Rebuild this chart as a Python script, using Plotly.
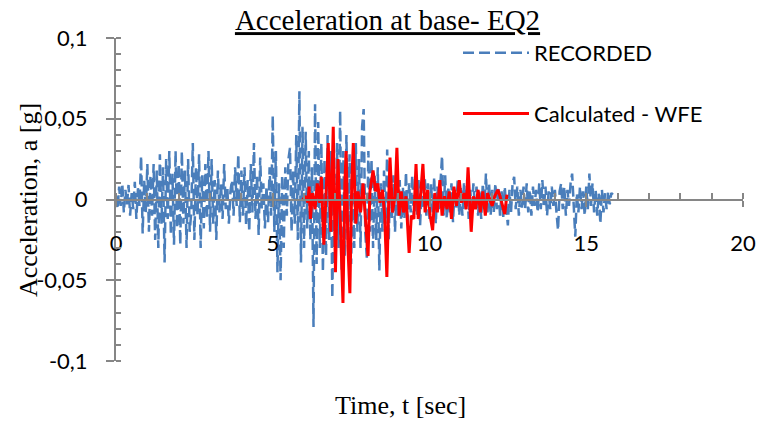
import numpy as np
import plotly.graph_objects as go

# ---------------- data ----------------
rec_dt = 0.05
recorded = [
    # 0 - 0.95 s
    0.002, -0.006, 0.008, -0.004, 0.010, -0.008, 0.006, -0.003, 0.009, -0.010,
    0.004, -0.006, 0.011, -0.012, 0.007, -0.004, 0.027, -0.021, 0.012, -0.008,
    # 1 s
    0.022, -0.020, 0.015, -0.010, 0.022, -0.025, 0.018, -0.030, 0.028, -0.015,
    0.020, -0.039, 0.025, -0.012, 0.030, -0.022, 0.016, -0.028, 0.030, -0.018,
    # 2 s
    0.022, -0.028, 0.030, -0.015, 0.018, -0.030, 0.025, -0.020, -0.008, 0.035,
    -0.025, 0.020, -0.010, 0.028, -0.030, 0.015, -0.018, 0.022, -0.012, 0.030,
    # 3 s
    -0.020, 0.025, -0.015, 0.012, -0.025, 0.018, -0.008, 0.010, -0.012, 0.022,
    -0.006, 0.008, -0.015, 0.005, 0.012, -0.010, 0.020, -0.004, 0.028, -0.014,
    # 4 s
    0.018, -0.010, 0.020, -0.016, 0.012, -0.020, 0.022, -0.008, 0.035, -0.012,
    0.015, -0.022, 0.026, -0.006, 0.010, -0.018, 0.008, -0.014, 0.020, -0.010,
    # 5 s
    0.052, -0.020, 0.030, -0.045, 0.010, -0.050, 0.015, -0.030, 0.020, -0.010,
    0.025, 0.032, -0.020, 0.018, -0.015, 0.040, -0.025, 0.067, -0.039, 0.045,
    # 6 s
    -0.030, 0.042, -0.018, 0.030, -0.025, 0.020, -0.079, 0.059, -0.040, 0.048,
    -0.030, 0.035, -0.045, 0.025, -0.035, 0.040, -0.025, 0.030, -0.061, 0.020,
    # 7 s
    -0.040, 0.035, -0.030, 0.055, -0.045, 0.030, -0.035, 0.040, -0.025, 0.028,
    -0.040, 0.020, -0.030, 0.035, -0.020, 0.025, -0.030, 0.045, 0.056, -0.020,
    # 8 s
    -0.036, 0.030, -0.020, 0.025, -0.030, 0.015, -0.025, 0.020, -0.044, 0.010,
    -0.020, 0.018, -0.015, 0.031, -0.025, 0.020, -0.012, 0.015, -0.020, 0.010,
    # 9 s
    -0.010, 0.012, -0.018, 0.008, -0.012, 0.017, -0.015, 0.010, -0.008, 0.015,
    -0.012, 0.006, -0.010, 0.012, -0.016, 0.008, -0.006, 0.014, -0.010, 0.010,
    # 10 s
    -0.012, 0.010, -0.008, 0.014, -0.015, 0.008, -0.006, 0.012, 0.027, -0.010,
    0.015, -0.012, 0.008, -0.008, 0.010, -0.014, 0.006, -0.006, 0.012, -0.010,
    # 11 s
    0.008, -0.010, 0.010, -0.006, 0.012, -0.012, 0.006, -0.008, 0.010, -0.005,
    0.008, -0.010, 0.006, -0.012, 0.010, -0.006, 0.016, -0.008, 0.010, -0.010,
    # 12 s
    0.006, -0.008, 0.010, -0.006, 0.008, -0.010, 0.005, -0.012, 0.008, -0.006,
    -0.016, 0.006, -0.008, 0.010, 0.014, -0.006, 0.008, -0.010, 0.006, -0.005,
    # 13 s
    0.008, -0.006, 0.010, -0.008, 0.006, -0.010, 0.008, -0.004, 0.006, -0.008,
    0.010, -0.006, 0.012, -0.005, 0.008, -0.010, 0.005, -0.006, 0.008, -0.004,
    # 14 s
    0.006, -0.008, -0.019, 0.005, 0.010, -0.006, 0.008, -0.010, 0.006, -0.004,
    0.010, 0.016, -0.006, -0.023, 0.004, -0.008, 0.008, -0.006, 0.005, -0.010,
    # 15 s
    0.008, -0.006, 0.016, -0.004, 0.010, -0.008, 0.006, -0.010, 0.004, -0.015,
    0.006, -0.008, 0.004, -0.006, 0.005, -0.003, 0.004, 0.003,
]
rec_t = np.arange(len(recorded)) * rec_dt

calc_t = [5.96, 6.05, 6.12, 6.16, 6.2, 6.27, 6.35, 6.42, 6.5, 6.55, 6.63, 6.7, 6.77,
          6.85, 6.93, 7.0, 7.08, 7.15, 7.24, 7.3, 7.34, 7.4, 7.46, 7.52, 7.57, 7.65,
          7.72, 7.8, 7.88, 7.95, 8.04, 8.1, 8.2, 8.28, 8.35, 8.42, 8.5, 8.57, 8.64,
          8.7, 8.74, 8.82, 8.9, 8.96, 9.03, 9.1, 9.17, 9.25, 9.35, 9.42, 9.5, 9.57,
          9.64, 9.72, 9.79, 9.86, 9.94, 10.02, 10.1, 10.17, 10.25, 10.33, 10.4,
          10.48, 10.56, 10.63, 10.7, 10.78, 10.86, 10.95, 11.02, 11.1, 11.17, 11.23,
          11.33, 11.4, 11.47, 11.55, 11.62, 11.7, 11.78, 11.85, 11.92, 12.0, 12.08,
          12.18, 12.25, 12.32, 12.4, 12.47]
calc_a = [0.0, 0.002, -0.002, 0.008, -0.012, 0.004, -0.006, 0.010, -0.002, 0.014,
          -0.028, 0.005, 0.035, -0.020, 0.045, -0.045, 0.025, -0.010, -0.064, 0.010,
          0.030, -0.030, -0.058, 0.010, 0.035, -0.015, 0.005, -0.008, 0.010, -0.010,
          -0.035, 0.005, 0.018, 0.005, 0.010, -0.002, 0.006, -0.010, -0.048, 0.000,
          0.026, -0.008, 0.002, 0.032, -0.010, 0.005, -0.008, 0.002, -0.033, -0.010,
          -0.012, 0.022, -0.012, 0.004, 0.022, -0.008, 0.006, -0.010, -0.019, 0.004,
          -0.008, 0.012, -0.010, 0.002, -0.006, 0.005, -0.012, 0.008, -0.004, 0.012,
          -0.002, 0.004, -0.006, 0.020, -0.020, 0.002, -0.006, 0.006, -0.008, 0.005,
          -0.010, 0.004, 0.000, -0.004, 0.002, 0.006, 0.002, -0.003, -0.009, 0.003]

x_ticks = [0, 5, 10, 15, 20]
x_ticktext = ["0", "5", "10", "15", "20"]
y_ticks = [-0.1, -0.05, 0, 0.05, 0.1]
y_ticktext = ["-0,1", "-0,05", "0", "0,05", "0,1"]

# ---------------- figure ----------------
AX = "#868686"
SANS = "Lato"
SERIF = "Liberation Serif"

fig = go.Figure()
fig.add_trace(go.Scatter(
    x=rec_t, y=recorded, mode="lines", name="RECORDED", legendgroup="a",
    line=dict(color="#4A7EBB", width=2.5, dash="11px,5px"),
))
fig.add_trace(go.Scatter(
    x=calc_t, y=calc_a, mode="lines", name="Calculated - WFE", legendgroup="b",
    line=dict(color="#FF0000", width=3),
))

fig.update_layout(
    width=758, height=422,
    margin=dict(l=116, r=15, t=38, b=61, autoexpand=False),
    paper_bgcolor="white", plot_bgcolor="white",
    font=dict(family=SANS, size=22, color="black"),
    title=dict(text="<u>Acceleration at base- EQ2</u>",
               font=dict(family=SERIF, size=29, color="black"),
               x=387.5 / 758, xanchor="center", xref="container",
               y=1 - 20 / 422, yanchor="middle", yref="container"),
    showlegend=True,
    legend=dict(x=(458 - 116) / 627, y=1 + 6 / 323, xanchor="left", yanchor="top",
                bgcolor="rgba(0,0,0,0)", font=dict(family=SANS, size=22),
                itemwidth=66, tracegroupgap=29, traceorder="grouped"),
    xaxis=dict(range=[0, 20], anchor="free", position=0.5, automargin=False,
               showgrid=False, zeroline=False, showline=True, linecolor=AX, linewidth=2,
               tickvals=x_ticks, ticktext=x_ticktext, ticks="outside", ticklen=6,
               tickwidth=2, tickcolor=AX, ticklabelstandoff=18,
               minor=dict(dtick=1, ticks="inside", ticklen=6, tickwidth=1.5, tickcolor=AX),
               tickfont=dict(family=SANS, size=22)),
    yaxis=dict(range=[-0.1, 0.1], showgrid=False, zeroline=False, showline=True,
               linecolor=AX, linewidth=2, automargin=False,
               tickvals=y_ticks, ticktext=y_ticktext, ticks="outside", ticklen=8,
               tickwidth=2, tickcolor=AX, ticklabelstandoff=14,
               minor=dict(dtick=0.01, ticks="inside", ticklen=5, tickwidth=1.5, tickcolor=AX),
               tickfont=dict(family=SANS, size=22)),
    annotations=[
        dict(text="Acceleration, a [g]", textangle=-90, xref="paper", yref="paper",
             x=(28 - 116) / 627, y=(361 - 200) / 323, xanchor="center", yanchor="middle",
             showarrow=False, font=dict(family=SERIF, size=26, color="black")),
        dict(text="Time, t [sec]", xref="paper", yref="paper",
             x=(400 - 116) / 627, y=(361 - 405) / 323, xanchor="center", yanchor="middle",
             showarrow=False, font=dict(family=SERIF, size=26, color="black")),
    ],
)

fig.write_html("out.html")
